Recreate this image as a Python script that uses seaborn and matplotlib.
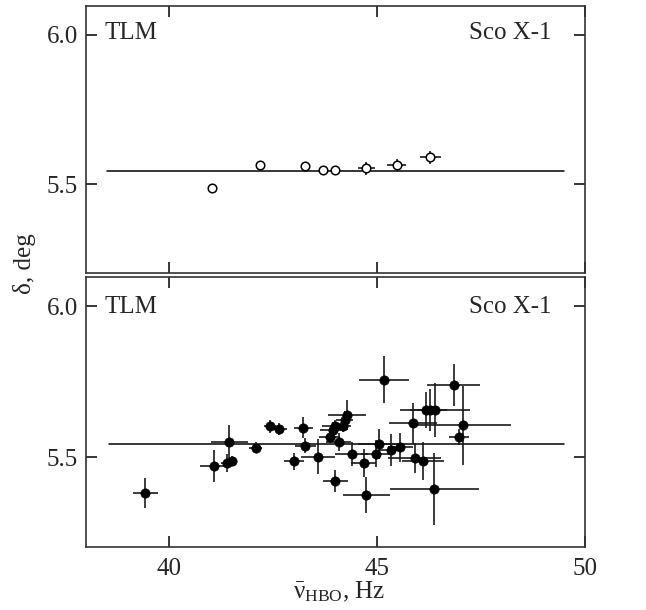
import matplotlib
matplotlib.use("Agg")
import matplotlib.pyplot as plt
import seaborn as sns
import pandas as pd

# ---- data ----
# top panel (open circles)
top_nu = [41.04, 42.19, 43.26, 43.69, 43.98, 44.74, 45.47, 46.28]
top_delta = [5.488, 5.566, 5.561, 5.547, 5.547, 5.554, 5.566, 5.590]
top_xerr = [0.0, 0.0, 0.08, 0.0, 0.06, 0.20, 0.22, 0.25]
top_yerr = [0.0, 0.0, 0.008, 0.0, 0.015, 0.022, 0.020, 0.022]

# bottom panel (filled circles)
bot_nu = [39.42, 41.08, 41.45, 41.39, 41.51, 42.08, 42.43, 42.64, 43.23, 43.27,
          43.01, 43.58, 43.99, 44.74, 45.17, 43.86, 43.93, 43.98, 44.18, 44.22,
          44.27, 44.08, 44.39, 44.68, 44.97, 45.04, 45.34, 45.56, 45.90, 46.10,
          46.37, 45.86, 46.18, 46.27, 46.39, 46.84, 47.06, 46.96]
bot_delta = [5.381, 5.472, 5.550, 5.481, 5.489, 5.532, 5.602, 5.595, 5.598, 5.538,
             5.487, 5.502, 5.422, 5.376, 5.757, 5.566, 5.592, 5.605, 5.605, 5.623,
             5.640, 5.551, 5.512, 5.481, 5.512, 5.545, 5.523, 5.533, 5.497, 5.489,
             5.395, 5.612, 5.657, 5.657, 5.657, 5.740, 5.606, 5.567]
bot_xerr = [0.30, 0.35, 0.44, 0.15, 0.08, 0.15, 0.15, 0.20, 0.24, 0.25,
            0.24, 0.41, 0.30, 0.56, 0.60, 0.25, 0.30, 0.30, 0.20, 0.20,
            0.46, 0.30, 0.40, 0.30, 0.35, 0.50, 0.30, 0.30, 0.63, 0.50,
            1.07, 0.57, 0.40, 0.40, 0.84, 0.63, 1.15, 0.24]
bot_yerr = [0.050, 0.053, 0.058, 0.030, 0.015, 0.018, 0.020, 0.020, 0.035, 0.025,
            0.028, 0.058, 0.037, 0.060, 0.078, 0.020, 0.025, 0.020, 0.020, 0.030,
            0.050, 0.030, 0.040, 0.045, 0.045, 0.050, 0.053, 0.047, 0.050, 0.063,
            0.120, 0.068, 0.060, 0.070, 0.090, 0.070, 0.130, 0.027]

top_fit_x = [38.5, 49.5]
top_fit_y = [5.546, 5.546]
bot_fit_x = [38.55, 49.5]
bot_fit_y = [5.543, 5.543]

x_ticks = [40, 45, 50]
y_ticks = [5.5, 6.0]
label_left = "TLM"
label_right = "Sco X-1"

# ---- style ----
sns.set_theme(style="white")
plt.rcParams["font.family"] = ["Liberation Serif", "DejaVu Serif"]
plt.rcParams["mathtext.fontset"] = "custom"
plt.rcParams["mathtext.rm"] = "Liberation Serif"
plt.rcParams["mathtext.it"] = "Liberation Serif"
plt.rcParams["mathtext.bf"] = "Liberation Serif:bold"

fig = plt.figure(figsize=(6.46, 6.10), dpi=100)
left, width = 86 / 646, 499 / 646
ax_top = fig.add_axes([left, 1 - 273 / 610, width, 267 / 610])
ax_bot = fig.add_axes([left, 1 - 547 / 610, width, 270 / 610])

for ax, nu, de, xe, ye, fx, fy, filled in [
    (ax_top, top_nu, top_delta, top_xerr, top_yerr, top_fit_x, top_fit_y, False),
    (ax_bot, bot_nu, bot_delta, bot_xerr, bot_yerr, bot_fit_x, bot_fit_y, True),
]:
    sns.lineplot(x=fx, y=fy, ax=ax, color="black", lw=1.1)
    ax.errorbar(nu, de, xerr=xe, yerr=ye, fmt="none", ecolor="#1a1a1a",
                elinewidth=1.2, capsize=0, zorder=2)
    df = pd.DataFrame({"nu": nu, "delta": de})
    if filled:
        sns.scatterplot(data=df, x="nu", y="delta", ax=ax, color="black",
                        s=45, edgecolor="black", linewidth=0.5, zorder=3)
    else:
        sns.scatterplot(data=df, x="nu", y="delta", ax=ax, facecolor="white",
                        s=38, edgecolor="black", linewidth=1.1, zorder=3)
    ax.set_xlim(38, 50)
    ax.set_ylim(5.203, 6.097)
    ax.set_xticks(x_ticks)
    ax.set_yticks(y_ticks)
    ax.set_yticklabels([f"{v:.1f}" for v in y_ticks])
    ax.tick_params(direction="in", length=8, width=1.1, color="black",
                   top=True, right=True, bottom=True, left=True,
                   labelsize=18, pad=6)
    ax.set_xlabel("")
    ax.set_ylabel("")
    for sp in ax.spines.values():
        sp.set_color("#333333")
        sp.set_linewidth(1.2)
    ax.text(0.038, 0.90 if not filled else 0.89, label_left, transform=ax.transAxes,
            ha="left", va="center", fontsize=18)
    ax.text(0.933, 0.90 if not filled else 0.89, label_right, transform=ax.transAxes,
            ha="right", va="center", fontsize=18)

ax_top.tick_params(labelbottom=False)
ax_bot.set_xticklabels([str(v) for v in x_ticks])
ax_bot.tick_params(axis="x", pad=8)

fig.text(0.5 * (86 + 585) / 646 + 0.005, 1 - 592 / 610, r"$\bar{\nu}_{\mathrm{HBO}}$, Hz",
         ha="center", va="center", fontsize=18)
fig.text(25 / 646, 1 - 264 / 610, "δ, deg", rotation=90, ha="center", va="center",
         fontsize=18)

fig.savefig("out.png", dpi=100)
